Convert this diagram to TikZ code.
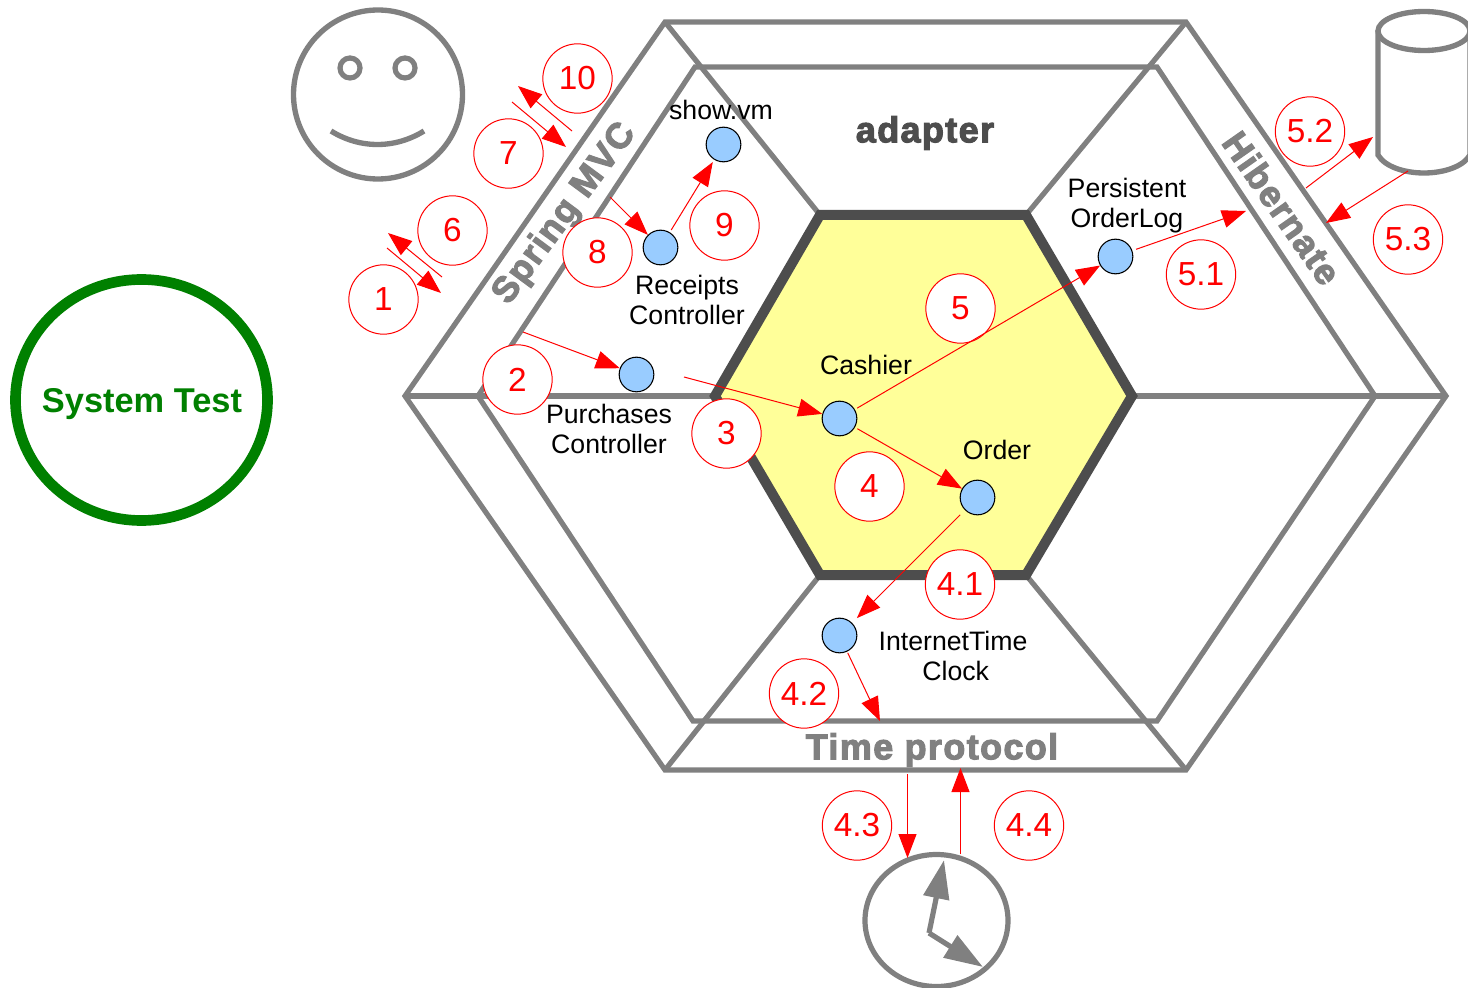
\documentclass[tikz,border=0pt]{standalone}
\usepackage{fontspec}
\usetikzlibrary{arrows.meta}
\setmainfont{Liberation Sans}
\newfontfamily\heavyfont[FakeBold=3,LetterSpace=3.8]{Liberation Sans Bold}
\definecolor{hexgray}{HTML}{808080}
\definecolor{darkgray}{HTML}{4D4D4D}
\definecolor{paleyellow}{HTML}{FFFF99}
\definecolor{dotblue}{HTML}{99CCFF}
\definecolor{testgreen}{HTML}{008000}
\tikzset{
  hexline/.style={draw=hexgray,line width=3.9pt,line join=miter},
  sketch/.style={draw=hexgray,line width=4pt,line cap=round},
  arr/.style={draw=red,line width=0.75pt,-{Triangle[length=18pt,width=13.5pt,fill=red]}},
  numcirc/.style={circle,draw=red,line width=0.75pt,fill=white,text=red,minimum size=52pt,inner sep=0pt,font=\fontsize{25}{27}\selectfont},
  dot/.style={circle,draw=black,line width=0.8pt,fill=dotblue,minimum size=26pt,inner sep=0pt},
  lbl/.style={text=black,align=center,inner sep=0pt,font=\fontsize{20}{22.5}\selectfont},
  heavy/.style={text=hexgray,inner sep=0pt,font=\heavyfont\fontsize{27}{29}\selectfont},
  hand/.style={draw=hexgray,line width=3.9pt,-{Triangle[length=29pt,width=19pt,fill=hexgray]}}
}
\begin{document}
\begin{tikzpicture}[x=0.75pt,y=-0.75pt]
\useasboundingbox (0,0) rectangle (1468,988);
\clip (0,0) rectangle (1468,988);
% hexagons
\draw[hexline] (665,22) -- (1186,22) -- (1446,396) -- (1186,770) -- (665,770) -- (405,396) -- cycle;
\draw[hexline] (695,67) -- (1157,67) -- (1375,396) -- (1157,721) -- (693,721) -- (478,396) -- cycle;
\draw[hexline] (665,22) -- (820,215);
\draw[hexline] (1186,22) -- (1026,215);
\draw[hexline] (1446,396) -- (1132,396);
\draw[hexline] (1186,770) -- (1026,575);
\draw[hexline] (665,770) -- (820,575);
\draw[hexline] (405,396) -- (715,396);
\draw[draw=darkgray,fill=paleyellow,line width=7.5pt,line join=miter] (820,215) -- (1026,215) -- (1132,396) -- (1026,575) -- (820,575) -- (715,396) -- cycle;
% system test
\draw[draw=testgreen,line width=8pt] (141.5,400) ellipse [x radius=126,y radius=120.5];
\node[text=testgreen,inner sep=0pt,font=\bfseries\fontsize{25.8}{28}\selectfont] (systemtest) at (142,404) {System Test};
% smiley
\draw[sketch] (378,94.5) circle (84.5);
\draw[draw=hexgray,line width=3.9pt] (350,68) circle (10);
\draw[draw=hexgray,line width=3.9pt] (405,68) circle (10);
\draw[sketch,line cap=butt] (331,131) .. controls (360,149) and (395,149) .. (424,131);
% cylinder
\draw[sketch] (1424,31) ellipse [x radius=46,y radius=19.5];
\draw[sketch] (1378,31) -- (1378,155) .. controls (1385,167) and (1405,173) .. (1424,173) .. controls (1443,173) and (1463,167) .. (1470,155) -- (1470,31);
% clock
\draw[draw=hexgray,line width=3.9pt] (936.5,920.5) ellipse [x radius=71.5,y radius=66];
\coordinate (pivot) at (929,933);
\coordinate (hourtip) at (944,860);
\coordinate (mintip) at (983,967);
\draw[hand] (pivot) -- (hourtip);
\draw[hand] (pivot) -- (mintip);
% heavy labels
\node[text=darkgray,inner sep=0pt,font=\heavyfont\fontsize{27}{29}\selectfont] (adapter) at (925,133) {adapter};
\node[heavy,rotate=53.5] (springmvc) at (565,214) {Spring MVC};
\node[heavy,rotate=-55] (hibernate) at (1282,208) {Hibernate};
\node[heavy] (timeprotocol) at (932,750) {Time protocol};
% dots
\node[dot] (showvm) at (723.5,144.5) {};
\node[dot] (receipts) at (660.5,247.5) {};
\node[dot] (purchases) at (636.5,374.5) {};
\node[dot] (cashier) at (839.5,418.5) {};
\node[dot] (order) at (977.5,497.5) {};
\node[dot] (persistent) at (1115.5,256.5) {};
\node[dot] (internet) at (839.5,635.5) {};
% dot labels
\node[lbl] (lshow) at (721,110) {show.vm};
\node[lbl] (lreceipts) at (687,300) {Receipts\\Controller};
\node[lbl] (lpurchases) at (609,429) {Purchases\\Controller};
\node[lbl] (lcashier) at (866,365) {Cashier};
\node[lbl] (lorder) at (997,450) {Order};
\node[lbl] (lpersistent) at (1127,206) {Persistent\\OrderLog};
\node[lbl] (linternet) at (953,656) {InternetTime\\\hspace*{4pt}Clock};
% free ends
\coordinate (a1s) at (387,248); \coordinate (a1e) at (441,293);
\coordinate (a6s) at (442,277); \coordinate (a6e) at (388,233);
\coordinate (a7s) at (512,102); \coordinate (a7e) at (566,147);
\coordinate (a10s) at (572,131); \coordinate (a10e) at (518,86);
\coordinate (a8s) at (610,197);
\coordinate (a2s) at (523,332);
\coordinate (a3s) at (684,377);
\coordinate (a51e) at (1246,211);
\coordinate (a52s) at (1306,188); \coordinate (a52e) at (1373,137);
\coordinate (a53s) at (1408,171); \coordinate (a53e) at (1326,223);
\coordinate (a42e) at (880,721);
\coordinate (a43s) at (907.5,774); \coordinate (a43e) at (907.5,858);
\coordinate (a44s) at (960.5,854); \coordinate (a44e) at (960.5,768);
% circles
\node[numcirc] (n1) at (383.5,299.5) {1};
\node[numcirc] (n6) at (452.5,230.5) {6};
\node[numcirc] (n7) at (508.5,153.5) {7};
\node[numcirc] (n10) at (577.5,78.5) {10};
\node[numcirc] (n8) at (597.5,252.5) {8};
\node[numcirc] (n9) at (724.5,225.5) {9};
\node[numcirc] (n2) at (517.5,379.5) {2};
\node[numcirc] (n3) at (726.5,433.5) {3};
\node[numcirc] (n4) at (869.5,486.5) {4};
\node[numcirc] (n5) at (960.5,308.5) {5};
\node[numcirc] (n41) at (960,584.5) {4.1};
\node[numcirc] (n42) at (804,693.5) {4.2};
\node[numcirc] (n43) at (857,825.5) {4.3};
\node[numcirc] (n44) at (1029,825.5) {4.4};
\node[numcirc] (n51) at (1201,274.5) {5.1};
\node[numcirc] (n52) at (1310,131.5) {5.2};
\node[numcirc] (n53) at (1408,239.5) {5.3};
% connectors
\draw[arr] (a1s) -- (a1e);
\draw[arr] (a6s) -- (a6e);
\draw[arr] (a7s) -- (a7e);
\draw[arr] (a10s) -- (a10e);
\draw[arr] (a8s) -- (receipts);
\draw[arr,shorten <=2pt,shorten >=2pt] (receipts) -- (showvm);
\draw[arr] (a2s) -- (purchases);
\draw[arr] (a3s) -- (cashier);
\draw[arr,shorten <=2pt] (cashier) -- (persistent);
\draw[arr,shorten <=2pt] (cashier) -- (order);
\draw[arr,shorten <=5pt,shorten >=5pt] (order) -- (internet);
\draw[arr,shorten <=1pt] (internet) -- (a42e);
\draw[arr,shorten <=3pt] (persistent) -- (a51e);
\draw[arr] (a52s) -- (a52e);
\draw[arr] (a53s) -- (a53e);
\draw[arr] (a43s) -- (a43e);
\draw[arr] (a44s) -- (a44e);
\end{tikzpicture}
\end{document}
